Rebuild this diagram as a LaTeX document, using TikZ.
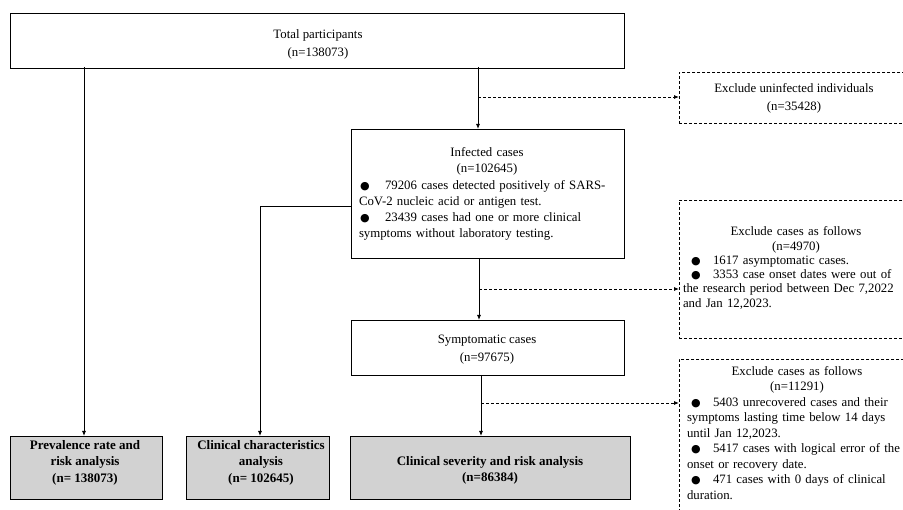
\documentclass[tikz,border=0pt]{standalone}
\usepackage{fontspec}
\setmainfont{Liberation Serif}
\newfontfamily\symfont{DejaVu Sans}
\usetikzlibrary{arrows.meta,calc}
% bullet: #1 indent, #2 total width
\newcommand{\bl}[2]{\hspace*{#1}\makebox[#2][l]{\fontsize{11}{11}\symfont ●}}
\begin{document}
\begin{tikzpicture}[x=1pt,y=-1pt,
  every node/.style={font=\fontsize{12.8}{18}\selectfont, inner sep=0pt},
  sbox/.style={draw, line width=0.8pt, anchor=north west},
  dbox/.style={draw, line width=0.8pt, anchor=north west, dash pattern=on 3pt off 2pt},
  gbox/.style={sbox, fill=gray!35},
  btxt/.style={align=center, anchor=north, font=\fontsize{13}{16.5}\selectfont\bfseries},
  arr/.style={line width=0.8pt, -{Latex[length=5pt,width=4pt]}},
  darr/.style={line width=0.8pt, dash pattern=on 3pt off 2pt, -{Latex[length=5pt,width=4pt]}},
  txt/.style={text width=#1, align=left}
]
\useasboundingbox (0,0) rectangle (903,510);

% boxes
\node[sbox, minimum width=614pt, minimum height=55pt] (top) at (10,13) {};
\node[align=center] (topt) at (318,44) {Total participants\\(n=138073)};

\node[dbox, minimum width=230pt, minimum height=51pt] (ex1) at (679,72) {};
\node[align=center] (ex1t) at (794,98) {Exclude uninfected individuals\\(n=35428)};

\node[sbox, minimum width=273pt, minimum height=129pt] (inf) at (351,129) {};
\node[txt=256pt, font=\fontsize{12.8}{16.2}\selectfont] (inft) at (487,194) {\centering Infected cases\\(n=102645)\par\raggedright
\bl{1pt}{25pt}79206 cases detected positively of SARS-\\CoV-2 nucleic acid or antigen test.\\
\bl{1pt}{25pt}23439 cases had one or more clinical\\symptoms without laboratory testing.};

\node[dbox, minimum width=230pt, minimum height=138pt] (ex2) at (679,200) {};
\node[txt=226pt, font=\fontsize{12.8}{14.3}\selectfont] (ex2t) at (796,268) {\centering Exclude cases as follows\\(n=4970)\par\raggedright
\bl{8pt}{22pt}1617 asymptomatic cases.\\
\bl{8pt}{22pt}3353 case onset dates were out of\\the research period between Dec 7,2022\\and Jan 12,2023.};

\node[sbox, minimum width=273pt, minimum height=55pt] (sym) at (351,320) {};
\node[align=center] (symt) at (487,350) {Symptomatic cases\\(n=97675)};

\node[dbox, minimum width=230pt, minimum height=200pt] (ex3) at (679,359) {};
\node[txt=220pt, anchor=north, font=\fontsize{12.8}{15.5}\selectfont] (ex3t) at (797,366) {\centering Exclude cases as follows\\(n=11291)\par\raggedright
\bl{4pt}{22pt}5403 unrecovered cases and their\\symptoms lasting time below 14 days\\until Jan 12,2023.\\
\bl{4pt}{22pt}5417 cases with logical error of the\\onset or recovery date.\\
\bl{4pt}{22pt}471 cases with 0 days of clinical\\duration.};

\node[gbox, minimum width=152pt, minimum height=63pt] (prev) at (10,436) {};
\node[btxt] (prevt) at (85,440) {Prevalence rate and\\risk analysis\\(n= 138073)};
\node[gbox, minimum width=143pt, minimum height=63pt] (cc) at (186,436) {};
\node[btxt] (cct) at (261,440) {Clinical characteristics\\analysis\\(n= 102645)};
\node[gbox, minimum width=280pt, minimum height=63pt] (sev) at (350,436) {};
\node[btxt] (sevt) at (490,456) {Clinical severity and risk analysis\\(n=86384)};

% junction coordinates
\coordinate (a0) at (84,67);
\coordinate (a1) at (478,67);
\coordinate (j1) at (478,97);
\coordinate (a2) at (479,258);
\coordinate (j2) at (479,289);
\coordinate (a3) at (481,375);
\coordinate (j3) at (481,403);
\coordinate (l1) at (351,206);
\coordinate (c1) at (260,436);

% connectors
\draw[arr] (a0) -- (a0 |- prev.north);
\draw[arr] (a1) -- (a1 |- inf.north);
\draw[darr] (j1) -- (j1 -| ex1.west);
\draw[arr] (l1) -| (c1);
\draw[arr] (a2) -- (a2 |- sym.north);
\draw[darr] (j2) -- (j2 -| ex2.west);
\draw[arr] (a3) -- (a3 |- sev.north);
\draw[darr] (j3) -- (j3 -| ex3.west);
\end{tikzpicture}
\end{document}
